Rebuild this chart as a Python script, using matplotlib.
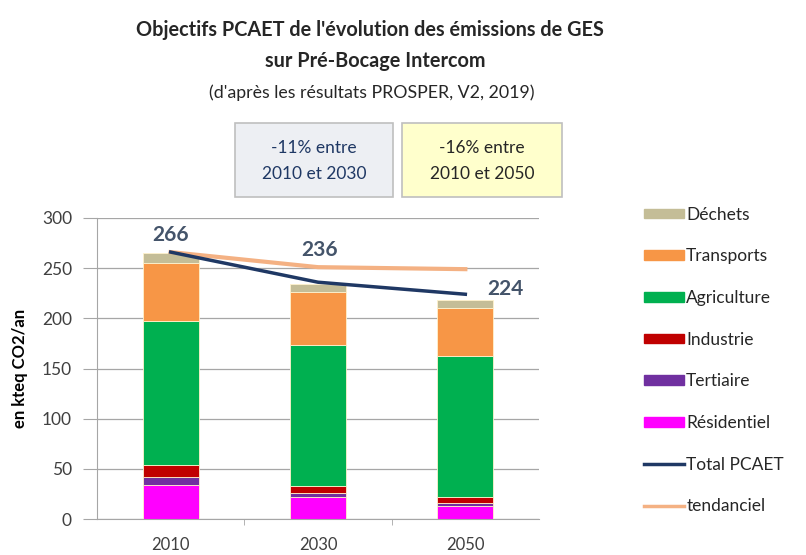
import numpy as np
import matplotlib
matplotlib.use('Agg')
import matplotlib.pyplot as plt
from matplotlib.patches import Patch, FancyBboxPatch
from matplotlib.lines import Line2D

plt.rcParams['font.family'] = ['Lato', 'DejaVu Sans']

# data (kteq CO2/an)
years = ['2010', '2030', '2050']
residentiel = [34, 22, 13]
tertiaire = [8, 4, 3]
industrie = [12, 7, 6]
agriculture = [143, 140, 140]
transports = [58, 53, 48]
dechets = [10, 8, 8]
total_pcaet = [266, 236, 224]
tendanciel = [266, 251, 249]

sectors = ['Résidentiel', 'Tertiaire', 'Industrie', 'Agriculture', 'Transports', 'Déchets']
values = [residentiel, tertiaire, industrie, agriculture, transports, dechets]
colors = ['#FF00FF', '#7030A0', '#C00000', '#00B050', '#F79646', '#C4BD97']

fig = plt.figure(figsize=(8.06, 5.55), dpi=100)
ax = fig.add_axes([97 / 806, 36 / 555, 442 / 806, 301 / 555])

x = np.arange(len(years))
bottom = np.zeros(len(years))
for name, vals, col in zip(sectors, values, colors):
    ax.bar(x, vals, 0.38, bottom=bottom, color=col, edgecolor='#FFF2CC', linewidth=0.6, zorder=2)
    bottom += np.array(vals)

ax.plot(x, tendanciel, color='#F4B183', lw=3, zorder=3)
ax.plot(x, total_pcaet, color='#1F3864', lw=2.5, zorder=4)

# label positions (offset in data units)
lab_off = [(0, 7), (0.01, 22), (0.27, -5)]
for i, v in enumerate(total_pcaet):
    ax.text(x[i] + lab_off[i][0], v + lab_off[i][1], str(v), ha='center', va='bottom',
            fontsize=15, fontweight='bold', color='#44546A', zorder=5)

ax.set_xlim(-0.5, 2.5)
ax.set_ylim(0, 300)
ax.set_yticks(np.arange(0, 301, 50))
ax.set_xticks(x)
ax.set_xticklabels(years)
ax.set_xticks([0.5, 1.5], minor=True)
ax.tick_params(axis='x', which='major', length=0, pad=13, labelsize=12, labelcolor='#404040')
ax.tick_params(axis='x', which='minor', length=4, color='#A6A6A6')
ax.tick_params(axis='y', length=10, color='#A6A6A6', labelsize=12.5, labelcolor='#404040', pad=8)
ax.yaxis.grid(True, color='#A6A6A6', lw=0.9, zorder=0)
ax.set_axisbelow(True)
for s in ['top', 'right']:
    ax.spines[s].set_visible(False)
ax.spines['left'].set_color('#A6A6A6')
ax.spines['bottom'].set_color('#A6A6A6')
ax.set_ylabel('en kteq CO2/an', fontsize=12, fontweight='bold', labelpad=10)

# titles
fig.text(370 / 806, 1 - 30 / 555, "Objectifs PCAET de l'évolution des émissions de GES",
         ha='center', va='center', fontsize=14.3, fontweight='bold', color='#262626')
fig.text(375 / 806, 1 - 61 / 555, 'sur Pré-Bocage Intercom',
         ha='center', va='center', fontsize=14.3, fontweight='bold', color='#262626')
fig.text(372 / 806, 1 - 93 / 555, "(d'après les résultats PROSPER, V2, 2019)",
         ha='center', va='center', fontsize=12.8, color='#262626')

# boxes
boxes = [(235, 393, '#EDEFF3', '-11% entre\n2010 et 2030', '#1F3864'),
         (402, 562, '#FFFFCC', '-16% entre\n2010 et 2050', '#262626')]
for x0, x1, fc, txt, tc in boxes:
    r = FancyBboxPatch((x0 / 806, 1 - 197 / 555), (x1 - x0) / 806, 74 / 555,
                       boxstyle='square,pad=0', transform=fig.transFigure,
                       facecolor=fc, edgecolor='#BFBFBF', lw=1.2)
    fig.patches.append(r)
    fig.text((x0 + x1) / 2 / 806, 1 - 161 / 555, txt, ha='center', va='center',
             fontsize=12.5, color=tc, linespacing=1.75)

# legend
handles = [Patch(color=c) for c in colors[::-1]]
labels = sectors[::-1]
handles += [Line2D([], [], color='#1F3864', lw=2.5), Line2D([], [], color='#F4B183', lw=2.5)]
labels += ['Total PCAET', 'tendanciel']
leg = fig.legend(handles, labels, loc='upper left', bbox_to_anchor=(628 / 806, 1 - 191 / 555),
                 frameon=False, fontsize=12.5, labelspacing=1.48, handlelength=2.3,
                 handleheight=0.5, handletextpad=0.15)
for t in leg.get_texts():
    t.set_color('#262626')

fig.savefig('out.png', dpi=100, facecolor='white')
